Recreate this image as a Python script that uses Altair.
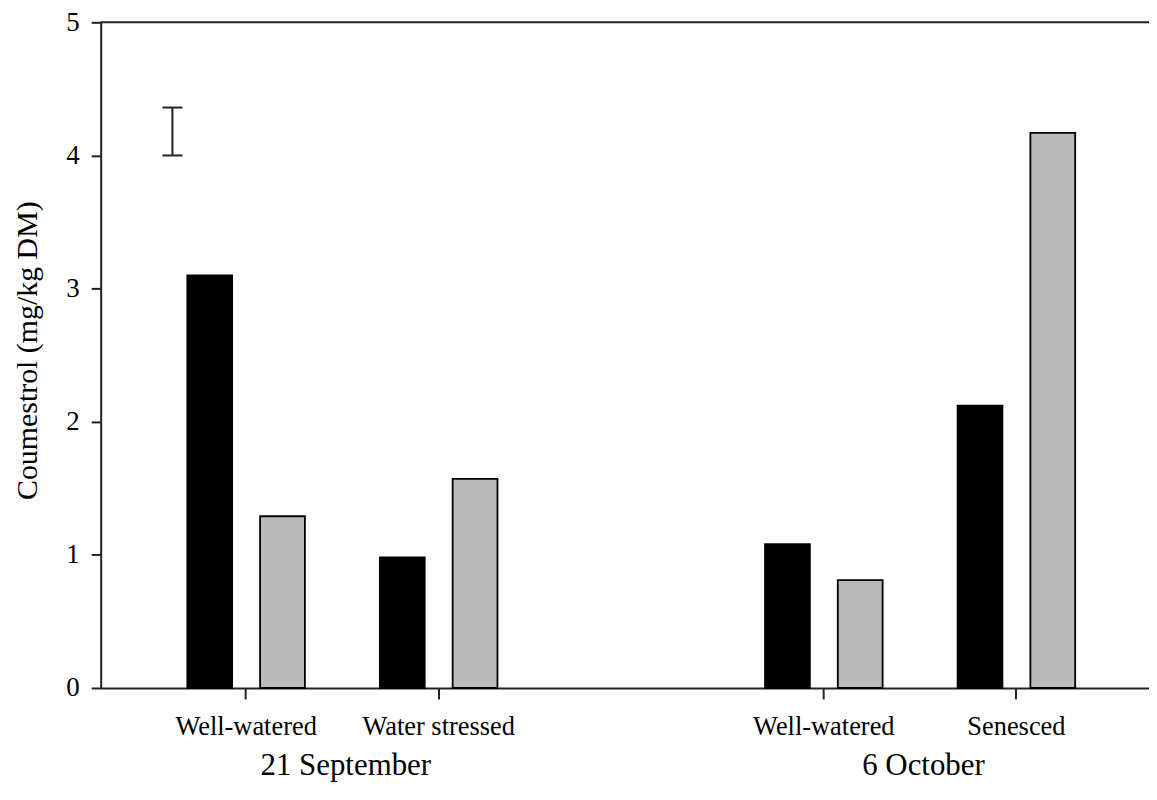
import altair as alt
import pandas as pd

# ---- data ----
dates = ["21 September", "21 September", "6 October", "6 October"]
treatments = ["Well-watered", "Water stressed", "Well-watered", "Senesced"]
series = ["Series 1", "Series 2"]
values_s1 = [3.10, 0.98, 1.08, 2.12]
values_s2 = [1.29, 1.57, 0.81, 4.17]
lsd_range = [4.00, 4.36]
y_ticks = [0, 1, 2, 3, 4, 5]

keys = [d + "|" + t for d, t in zip(dates, treatments)]
domain = keys[:2] + ["spacer"] + keys[2:]

rows = []
for k, a, b in zip(keys, values_s1, values_s2):
    rows.append({"key": k, "series": series[0], "value": a})
    rows.append({"key": k, "series": series[1], "value": b})
df = pd.DataFrame(rows)

FONT = "Liberation Serif"
W, H = 1052, 668
AX = "#222222"

xscale = alt.Scale(domain=domain, paddingInner=0.3894, paddingOuter=0.4166, align=0.54)

bars = alt.Chart(df).mark_bar(stroke="black", strokeWidth=1.8).encode(
    x=alt.X("key:N", scale=xscale, title=None,
            axis=alt.Axis(values=keys, labelExpr="split(datum.value, '|')[1]",
                          labelAngle=0, labelFont=FONT, labelFontSize=26.5, labelColor="black",
                          labelPadding=15, tickSize=11, tickWidth=2, tickColor=AX,
                          domainColor=AX, domainWidth=2, grid=False)),
    xOffset=alt.XOffset("series:N", sort=series,
                        scale=alt.Scale(domain=series, paddingInner=0.384, paddingOuter=0)),
    y=alt.Y("value:Q", scale=alt.Scale(domain=[0, 5], nice=False),
            axis=alt.Axis(values=y_ticks, format="d", title="Coumestrol (mg/kg DM)", grid=False,
                          labelFont=FONT, labelFontSize=27, labelColor="black", labelPadding=12,
                          tickSize=9.5, tickWidth=2, tickColor=AX, domainColor=AX, domainWidth=2,
                          titleFont=FONT, titleFontSize=30, titleFontWeight="normal",
                          titleColor="black", titleX=-64, titleY=329, titleAngle=-90,
                          titleAlign="center", titleBaseline="alphabetic")),
    color=alt.Color("series:N", scale=alt.Scale(domain=series, range=["#000000", "#bababa"]),
                    legend=None),
)

top_line = alt.Chart(pd.DataFrame({"v": [5]})).mark_rule(color=AX, strokeWidth=2).encode(
    y=alt.datum(5), x=alt.value(0), x2=alt.value(W)
)

lsd_df = pd.DataFrame({"low": [lsd_range[0]], "high": [lsd_range[1]]})
lsd_bar = alt.Chart(lsd_df).mark_rule(color=AX, strokeWidth=2).encode(
    y="low:Q", y2="high:Q", x=alt.value(72)
)
caps_df = pd.DataFrame({"v": lsd_range})
lsd_caps = alt.Chart(caps_df).mark_rule(color=AX, strokeWidth=2).encode(
    y="v:Q", x=alt.value(62), x2=alt.value(82)
)

grp_df = pd.DataFrame({"date": [dates[0], dates[2]], "key": [keys[0], keys[2]]})
grp_text = alt.Chart(grp_df).mark_text(
    dx=100, baseline="alphabetic", align="center", font=FONT, fontSize=31, color="black"
).encode(x=alt.X("key:N", title=None), y=alt.value(755), text="date:N")

chart = alt.layer(bars, top_line, lsd_bar, lsd_caps, grp_text).properties(
    width=W, height=H,
    padding={"left": 93, "top": 13, "right": 0, "bottom": 100},
    autosize=alt.AutoSizeParams(type="none"),
    background="white",
).configure_view(stroke=None)

chart.save("out.html", embed_options={"renderer": "svg", "actions": False})
